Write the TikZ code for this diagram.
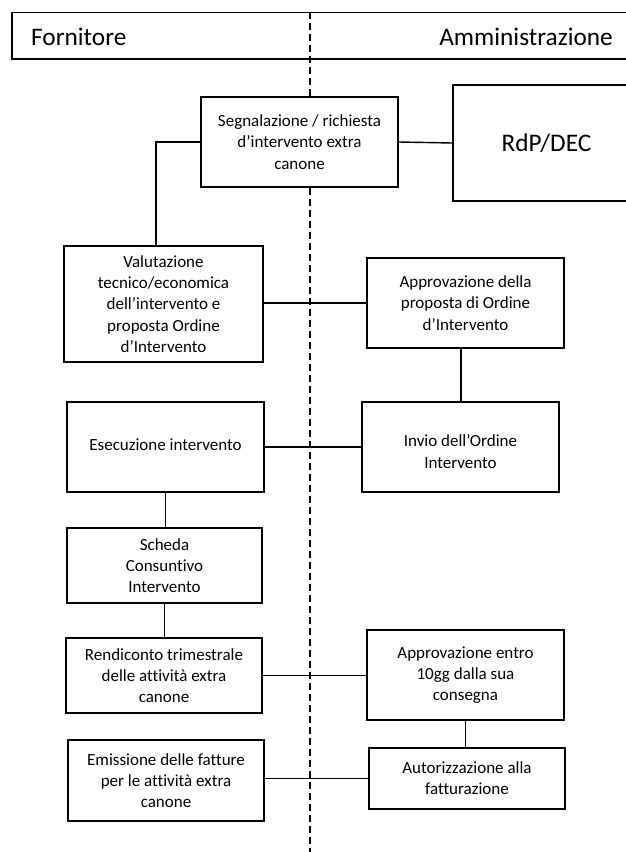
\documentclass[tikz,border=0pt]{standalone}
\usepackage{fontspec}
\setmainfont{Carlito}[Ligatures=NoCommon]
\begin{document}
\begin{tikzpicture}[x=1pt,y=-1pt,
  box/.style={draw=black,line width=1.8pt,fill=white,align=center,inner sep=0pt,
    font=\fontsize{17}{21.2}\selectfont},
  conn/.style={draw=black,line width=1.4pt},
  lane/.style={draw=black,line width=1.4pt,dash pattern=on 7pt off 4pt}]
\useasboundingbox (0,0) rectangle (625,852);
% header
\draw[line width=1.5pt] (626,12.5) -- (12,12.5) -- (12,59) -- (626,59);
\node[anchor=west,inner sep=0pt,font=\fontsize{25.3}{28}\selectfont] (forn) at (31,37) {Fornitore};
\node[anchor=east,inner sep=0pt,font=\fontsize{25.3}{28}\selectfont] (amm) at (613,37) {Amministrazione};
% lane separator
\coordinate (lt) at (310,12);
\coordinate (lb) at (310,852);
\draw[lane] (lt) -- (lb);
% boxes
\node[box,minimum width=197pt,minimum height=90pt] (a) at (299.5,142) {Segnalazione / richiesta\\d’intervento extra\\canone};
\node[box,minimum width=187pt,minimum height=116pt,font=\fontsize{25.3}{30}\selectfont] (rdp) at (546.5,143) {RdP/DEC};
\node[box,minimum width=199pt,minimum height=116pt] (b) at (163.5,304) {Valutazione\\tecnico/economica\\dell’intervento e\\proposta Ordine\\d’Intervento};
\node[box,minimum width=197pt,minimum height=90pt] (c) at (465.5,303) {Approvazione della\\proposta di Ordine\\d’Intervento};
\node[box,minimum width=197pt,minimum height=90pt] (d) at (165.5,447) {\raisebox{2pt}[\height][\depth]{Esecuzione intervento}};
\node[box,minimum width=197pt,minimum height=90pt] (e) at (460.5,447) {\raisebox{-6pt}[\height][\depth]{\begin{tabular}{@{}c@{}}Invio dell’Ordine\\[1pt]Intervento\end{tabular}}};
\node[box,minimum width=195pt,minimum height=75pt] (f) at (164.5,565.5) {Scheda\\Consuntivo\\Intervento};
\node[box,minimum width=196pt,minimum height=75pt] (g) at (164,675.5) {Rendiconto trimestrale\\delle attività extra\\canone};
\node[box,minimum width=197pt,minimum height=90pt] (h) at (465.5,675) {Approvazione entro\\10gg dalla sua\\consegna};
\node[box,minimum width=196pt,minimum height=81pt] (i) at (166,780.5) {Emissione delle fatture\\per le attività extra\\canone};
\node[box,minimum width=196pt,minimum height=61pt] (j) at (467,778.5) {Autorizzazione alla\\fatturazione};
% connectors
\draw[conn] (a.west) -| ([xshift=-7.5pt]b.north);
\draw[conn] (a.east) -- (rdp.west);
\draw[conn] (b.east |- c.west) -- (c.west);
\draw[conn] ([xshift=-4.5pt]c.south) -- ([xshift=-4.5pt]c.south |- e.north);
\draw[conn] (d.east) -- (e.west);
\draw[conn] (d.south) -- (d.south |- f.north);
\draw[conn] (f.south) -- (f.south |- g.north);
\draw[conn] (g.east) -- (g.east -| h.west);
\draw[conn] (h.south) -- (h.south |- j.north);
\draw[conn] (i.east |- j.west) -- (j.west);
\end{tikzpicture}
\end{document}
